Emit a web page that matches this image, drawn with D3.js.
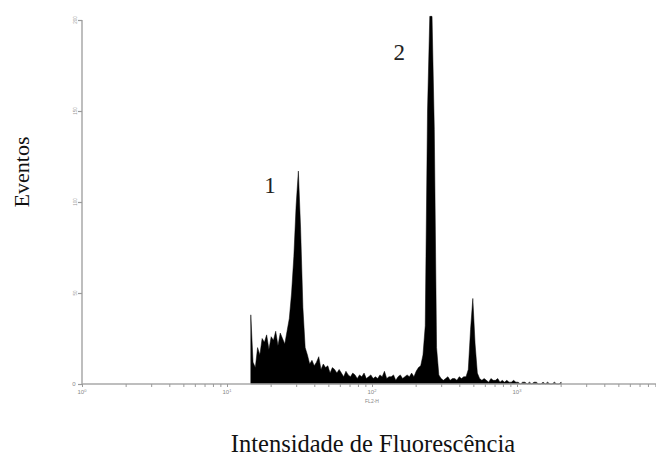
<!DOCTYPE html>
<html><head><meta charset="utf-8">
<script src="https://cdn.jsdelivr.net/npm/d3@7/dist/d3.min.js"></script>
<style>body{margin:0;background:#fff}svg{display:block}</style>
</head><body>
<svg id="chart" width="656" height="456"></svg>
<script>
// Histogram on a 1024-channel, 4-decade log scale; counts per 4-channel bin
const firstChannel = 296;
const channelsPerBin = 4;
const counts = [
  38, 12, 9, 20, 16, 25, 23, 27, 19, 26, 24, 29, 21, 28, 25, 22, 29, 36, 50, 70,
  98, 117, 85, 42, 20, 16, 11, 13, 10, 12, 15, 8, 11, 9, 10, 6, 9, 8, 6, 8,
  6, 4, 7, 5, 4, 6, 5, 3, 5, 4, 6, 3, 4, 5, 3, 4, 3, 5, 4, 7,
  3, 4, 4, 5, 2, 4, 5, 3, 4, 5, 4, 6, 4, 7, 9, 10, 16, 32, 150, 202,
  202, 140, 20, 5, 3, 2, 3, 4, 2, 3, 3, 2, 4, 3, 4, 4, 8, 30, 47, 22,
  6, 3, 2, 3, 2, 1, 3, 2, 2, 3, 1, 2, 1, 2, 1, 1, 2, 1, 1, 0,
  1, 1, 0, 1, 0, 1, 1, 0, 0, 1, 0, 1, 0, 0, 1, 0, 0, 1
];
const yTicks = [0, 50, 100, 150, 200];
const xDecades = [1, 10, 100, 1000];
const xDecadeExp = ["0", "1", "2", "3"];
const peakLabels = [{text: "1", channel: 332, count: 105}, {text: "2", channel: 560, count: 178}];

const svg = d3.select("#chart");
const x = d3.scaleLog().domain([1, 1e4]).range([82, 662]);
const y = d3.scaleLinear().domain([0, 200]).range([384, 20]);
const chToVal = c => Math.pow(10, c / 256);

const data = counts.map((c, i) => ({v: chToVal(firstChannel + channelsPerBin * i + channelsPerBin / 2), c}));

// area
const area = d3.area().x(d => x(d.v)).y0(y(0)).y1(d => y(d.c)).curve(d3.curveLinear);
svg.append("path").datum(data).attr("d", area).attr("fill", "#000").attr("stroke", "#000").attr("stroke-width", 0.5);

// x axis ticks
const xTickVals = [];
for (let d = 1; d <= 1000; d *= 10) for (let k = 1; k <= 9; k++) xTickVals.push(d * k);
const gx = svg.append("g").attr("transform", "translate(0,384)")
  .call(d3.axisBottom(x).tickValues(xTickVals).tickSize(3).tickSizeOuter(0).tickFormat(""));
gx.select(".domain").attr("d", "M82,0H656").attr("stroke", "#a8a8a8").attr("stroke-width", 1.5);
gx.selectAll(".tick line").attr("stroke", "#9a9a9a").attr("stroke-width", 1);

xDecades.forEach((d, i) => {
  const t = svg.append("text").attr("x", x(d)).attr("y", 394).attr("text-anchor", "middle")
    .attr("font-family", "Arial, Liberation Sans, sans-serif").attr("font-size", 6).attr("fill", "#888");
  t.append("tspan").text("10");
  t.append("tspan").attr("dy", -2.5).attr("font-size", 4).text(xDecadeExp[i]);
});
svg.append("text").attr("x", x(100)).attr("y", 403).attr("text-anchor", "middle")
  .attr("font-family", "Arial, Liberation Sans, sans-serif").attr("font-size", 5).attr("fill", "#888").text("FL2-H");

// y axis
const gy = svg.append("g").attr("transform", "translate(82,0)")
  .call(d3.axisLeft(y).tickValues(yTicks).tickSize(4).tickSizeOuter(0).tickFormat(""));
gy.select(".domain").attr("d", "M0,384V20").attr("stroke", "#a8a8a8").attr("stroke-width", 1.5);
gy.selectAll(".tick line").attr("stroke", "#9a9a9a").attr("stroke-width", 1.2);
yTicks.forEach(t => {
  if (t === 0) {
    svg.append("text").attr("x", 74).attr("y", y(0) + 2).attr("text-anchor", "middle")
      .attr("font-family", "Arial, Liberation Sans, sans-serif").attr("font-size", 6).attr("fill", "#888").text(t);
  } else {
    svg.append("text").attr("transform", `translate(77,${y(t)}) rotate(-90)`).attr("text-anchor", "middle")
      .attr("font-family", "Arial, Liberation Sans, sans-serif").attr("font-size", 4.5).attr("fill", "#999").text(t);
  }
});

// peak labels
peakLabels.forEach(p => {
  svg.append("text").attr("x", x(chToVal(p.channel))).attr("y", y(p.count)).attr("text-anchor", "middle")
    .attr("font-family", "Liberation Serif, Times New Roman, serif").attr("font-size", 23).attr("fill", "#222").text(p.text);
});

// axis titles
svg.append("text").attr("transform", "translate(29,172) rotate(-90)").attr("text-anchor", "middle")
  .attr("font-family", "Liberation Serif, Times New Roman, serif").attr("font-size", 22).attr("fill", "#111").text("Eventos");
svg.append("text").attr("x", 373).attr("y", 452).attr("text-anchor", "middle")
  .attr("font-family", "Liberation Serif, Times New Roman, serif").attr("font-size", 24.5).attr("fill", "#111").text("Intensidade de Fluorescência");
</script>
</body></html>
